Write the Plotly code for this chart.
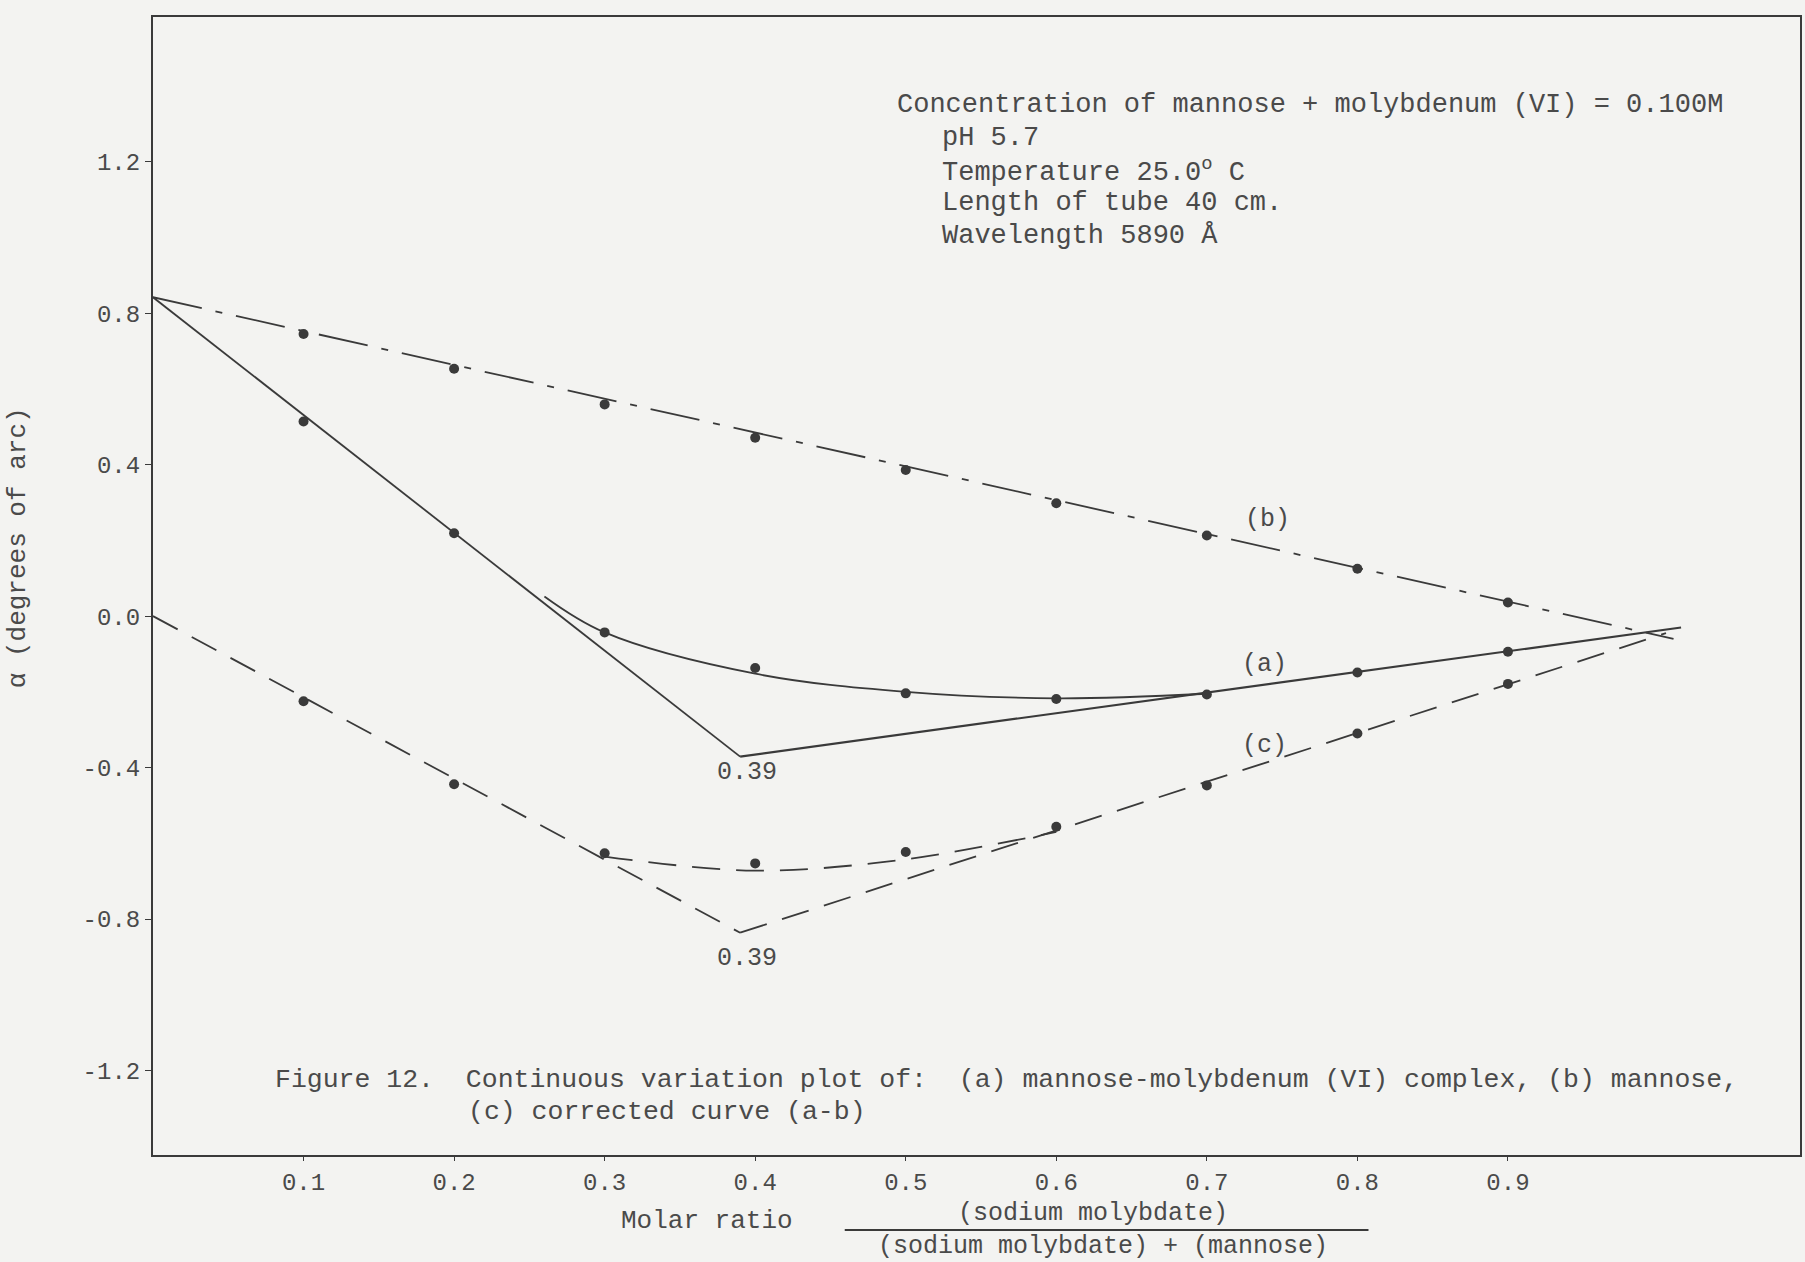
import plotly.graph_objects as go

# ---- data ----
x_points = [0.1, 0.2, 0.3, 0.4, 0.5, 0.6, 0.7, 0.8, 0.9]
a_points = [0.514, 0.219, -0.043, -0.137, -0.204, -0.219, -0.207, -0.149, -0.094]
b_points = [0.745, 0.653, 0.559, 0.471, 0.386, 0.298, 0.213, 0.125, 0.036]
c_points = [-0.225, -0.444, -0.626, -0.653, -0.623, -0.556, -0.447, -0.310, -0.179]

# drawn straight lines / smooth curves
b_line_x = [0.0, 1.01]
b_line_y = [0.842, -0.060]
a_line1_x = [0.0, 0.39]
a_line1_y = [0.842, -0.371]
a_line2_x = [0.39, 1.015]
a_line2_y = [-0.371, -0.030]
a_curve_x = [0.26, 0.30, 0.40, 0.50, 0.60, 0.70]
a_curve_y = [0.052, -0.043, -0.152, -0.200, -0.217, -0.205]
c_line1_x = [0.0, 0.39]
c_line1_y = [0.0, -0.836]
c_line2_x = [0.39, 1.005]
c_line2_y = [-0.836, -0.045]
c_curve_x = [0.30, 0.40, 0.50, 0.60]
c_curve_y = [-0.635, -0.672, -0.642, -0.570]

x_tick_vals = [0.1, 0.2, 0.3, 0.4, 0.5, 0.6, 0.7, 0.8, 0.9]
x_tick_text = ["0.1", "0.2", "0.3", "0.4", "0.5", "0.6", "0.7", "0.8", "0.9"]
y_tick_vals = [1.2, 0.8, 0.4, 0.0, -0.4, -0.8, -1.2]
y_tick_text = ["1.2", "0.8", "0.4", "0.0", "-0.4", "-0.8", "-1.2"]

INK = "#3a3a3a"
TEXT = "#4a4a4a"
BG = "#f3f3f1"
FONT = "Liberation Mono, Courier New, monospace"

fig = go.Figure()

def line(x, y, dash="solid", shape="linear", width=1.8):
    fig.add_trace(go.Scatter(x=x, y=y, mode="lines", line=dict(color=INK, width=width, dash=dash, shape=shape, smoothing=1.0),
                             showlegend=False, hoverinfo="skip"))

dashdot = "50px,14px,7px,14px"
dashed = "28px,16px"

line(b_line_x, b_line_y, dash=dashdot)
line(a_line1_x, a_line1_y)
line(a_line2_x, a_line2_y, width=2.2)
line(a_curve_x, a_curve_y, shape="spline")
line(c_line1_x, c_line1_y, dash=dashed)
line(c_line2_x, c_line2_y, dash=dashed)
line(c_curve_x, c_curve_y, dash=dashed, shape="spline")

for ys in (a_points, b_points, c_points):
    fig.add_trace(go.Scatter(x=x_points, y=ys, mode="markers",
                             marker=dict(color=INK, size=10, symbol="circle"),
                             showlegend=False, hoverinfo="skip"))

ann = []
def txt(x, y, s, size=26, xanchor="left", xref="x", yref="y", angle=0):
    ann.append(dict(x=x, y=y, xref=xref, yref=yref, text=s, showarrow=False,
                    xanchor=xanchor, yanchor="middle", textangle=angle,
                    font=dict(family=FONT, size=size, color=TEXT)))

# info block
txt(0.4927, 1.349, "Concentration of mannose + molybdenum (VI) = 0.100M", size=27)
txt(0.523, 1.262, "pH 5.7", size=27)
txt(0.523, 1.177, "Temperature 25.0<sup>o</sup> C", size=27)
txt(0.523, 1.091, "Length of tube 40 cm.", size=27)
txt(0.523, 1.003, "Wavelength 5890 Å", size=27)

# curve labels
txt(0.740, 0.256, "(b)", xanchor="center", size=25)
txt(0.738, -0.127, "(a)", xanchor="center", size=25)
txt(0.738, -0.341, "(c)", xanchor="center", size=25)
txt(0.3946, -0.412, "0.39", xanchor="center", size=25)
txt(0.3946, -0.903, "0.39", xanchor="center", size=25)

# caption
txt(0.0796, -1.225, "Figure 12.  Continuous variation plot of:  (a) mannose-molybdenum (VI) complex, (b) mannose,", size=26.5)
txt(0.2076, -1.310, "(c) corrected curve (a-b)", size=26.5)

# axis titles
txt(0.3366, -0.058, "Molar ratio", xanchor="center", xref="paper", yref="paper")
txt(0.5706, -0.051, "(sodium molybdate)", xanchor="center", xref="paper", yref="paper", size=25)
txt(0.577, -0.0800, "(sodium molybdate) + (mannose)", xanchor="center", xref="paper", yref="paper", size=25)
txt(-0.082, 0.534, "α (degrees of arc)", xanchor="center", xref="paper", yref="paper", angle=-90, size=26)

fig.update_layout(
    width=1805, height=1262,
    margin=dict(l=153, r=3, t=17, b=107),
    paper_bgcolor=BG, plot_bgcolor=BG,
    annotations=ann,
    shapes=[dict(type="line", xref="paper", yref="paper", x0=0.420, x1=0.738, y0=-0.0660, y1=-0.0660,
                 line=dict(color=INK, width=2))],
    font=dict(family=FONT, size=24, color=TEXT),
)
fig.update_xaxes(range=[0, 1.094], showgrid=False, zeroline=False, showline=True, mirror=True,
                 linecolor=INK, linewidth=2, ticks="outside", ticklen=4, tickcolor=INK,
                 tickvals=x_tick_vals, ticktext=x_tick_text,
                 tickfont=dict(family=FONT, size=24, color=TEXT))
fig.update_yaxes(range=[-1.423, 1.582], showgrid=False, zeroline=False, showline=True, mirror=True,
                 linecolor=INK, linewidth=2, ticks="outside", ticklen=6, tickcolor=INK,
                 tickvals=y_tick_vals, ticktext=y_tick_text,
                 tickfont=dict(family=FONT, size=24, color=TEXT))

fig.write_html("out.html", config={"displayModeBar": False},
               post_script="document.body.style.margin='0';document.body.style.background='#f3f3f1';")
